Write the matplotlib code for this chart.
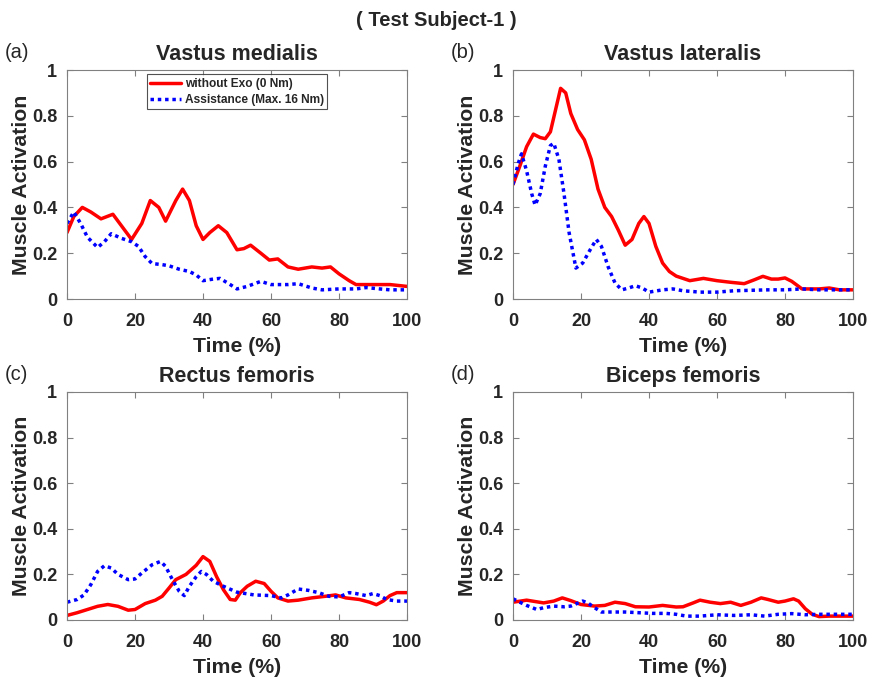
import matplotlib
matplotlib.use("Agg")
import matplotlib.pyplot as plt

plt.rcParams['font.family'] = ['Liberation Sans', 'DejaVu Sans']

# ---------------- data ----------------
titles = ["Vastus medialis", "Vastus lateralis", "Rectus femoris", "Biceps femoris"]
panel_labels = ["(a)", "(b)", "(c)", "(d)"]
legend_labels = ["without Exo (0 Nm)", "Assistance (Max. 16 Nm)"]
x_ticks = [0, 20, 40, 60, 80, 100]
y_ticks = [0, 0.2, 0.4, 0.6, 0.8, 1]
y_tick_labels = ["0", "0.2", "0.4", "0.6", "0.8", "1"]

vm_red_x = [0, 2, 4.5, 7, 10, 13.5, 16, 19, 22, 24.5, 27, 29, 32, 34, 36, 38, 40, 42, 44.5, 47,
            50, 52, 54, 57, 59.5, 62, 65, 68, 72, 75, 77.5, 80, 83, 85, 90, 95, 100]
vm_red_y = [0.29, 0.36, 0.40, 0.38, 0.35, 0.37, 0.32, 0.26, 0.33, 0.43, 0.40, 0.34, 0.43, 0.48, 0.43,
            0.32, 0.26, 0.29, 0.32, 0.29, 0.215, 0.22, 0.235, 0.20, 0.17, 0.175, 0.14, 0.13, 0.14,
            0.135, 0.14, 0.11, 0.08, 0.063, 0.063, 0.063, 0.055]
vm_blue_x = [0, 2, 4, 6, 9, 11, 13, 16, 19, 21, 23, 25, 28, 30, 33, 36, 38, 40, 43, 45, 48, 50,
             53, 57, 60, 65, 68, 72, 75, 80, 85, 88, 92, 95, 100]
vm_blue_y = [0.33, 0.38, 0.33, 0.27, 0.225, 0.25, 0.285, 0.265, 0.25, 0.23, 0.185, 0.155, 0.15, 0.145,
             0.13, 0.12, 0.105, 0.08, 0.087, 0.09, 0.063, 0.044, 0.055, 0.077, 0.063, 0.063, 0.067,
             0.048, 0.04, 0.044, 0.044, 0.05, 0.044, 0.04, 0.04]

vl_red_x = [0, 2, 4, 6, 8, 9.5, 11, 12.5, 14, 15.5, 17, 19, 21, 23, 25, 27, 29, 31, 33, 35, 37, 38.5,
            40, 42, 44, 46, 48, 52, 56, 60, 64, 68, 71, 73.5, 76, 78, 80, 82, 85, 90, 93, 96, 100]
vl_red_y = [0.50, 0.58, 0.665, 0.72, 0.705, 0.70, 0.73, 0.825, 0.92, 0.90, 0.81, 0.74, 0.695, 0.61,
            0.48, 0.40, 0.36, 0.30, 0.235, 0.26, 0.33, 0.36, 0.33, 0.23, 0.157, 0.12, 0.10, 0.08,
            0.09, 0.08, 0.073, 0.067, 0.084, 0.099, 0.087, 0.087, 0.092, 0.077, 0.044, 0.044,
            0.048, 0.04, 0.04]
vl_blue_x = [0, 1.5, 2.5, 4, 5.5, 6.5, 8, 9.5, 11, 12, 13.5, 15, 16.5, 18.5, 20.5, 22.5, 24.5, 26,
             28, 30, 32, 34, 36, 38, 40, 44, 47, 50, 55, 60, 65, 70, 75, 80, 85, 90, 95, 100]
vl_blue_y = [0.50, 0.59, 0.634, 0.56, 0.46, 0.41, 0.46, 0.58, 0.67, 0.68, 0.61, 0.46, 0.29, 0.135,
             0.157, 0.21, 0.26, 0.23, 0.14, 0.07, 0.04, 0.048, 0.058, 0.048, 0.03, 0.04, 0.044,
             0.036, 0.03, 0.03, 0.036, 0.038, 0.04, 0.04, 0.044, 0.04, 0.04, 0.04]

rf_red_x = [0, 3, 6, 9, 12, 15, 18, 20, 23, 26, 28, 30, 32, 35, 38, 40, 42, 44, 46, 48, 49.5, 51, 53,
            55.5, 58, 60, 62, 65, 68, 72, 76, 79, 82, 86, 89, 91, 93, 95, 97, 100]
rf_red_y = [0.02, 0.032, 0.046, 0.06, 0.068, 0.06, 0.043, 0.046, 0.072, 0.087, 0.104, 0.14, 0.177,
            0.20, 0.24, 0.278, 0.257, 0.19, 0.133, 0.09, 0.087, 0.12, 0.148, 0.17, 0.16, 0.126,
            0.097, 0.083, 0.087, 0.097, 0.104, 0.11, 0.097, 0.09, 0.078, 0.067, 0.083, 0.107,
            0.12, 0.12]
rf_blue_x = [0, 3, 5, 7, 9, 11, 13, 15, 18, 20, 22, 25, 27.5, 29, 31, 33, 34.5, 36, 38, 39.5, 41,
             43, 46, 50, 55, 60, 63, 65, 68, 71, 74, 77, 80, 83, 85, 88, 90, 92, 94, 97, 100]
rf_blue_y = [0.078, 0.09, 0.11, 0.155, 0.213, 0.238, 0.228, 0.20, 0.177, 0.18, 0.206, 0.242, 0.257,
             0.235, 0.177, 0.126, 0.107, 0.148, 0.19, 0.213, 0.20, 0.17, 0.148, 0.122, 0.11, 0.107,
             0.097, 0.11, 0.136, 0.13, 0.12, 0.104, 0.101, 0.12, 0.116, 0.107, 0.116, 0.107, 0.09,
             0.083, 0.083]

bf_red_x = [0, 4, 9, 12, 14.5, 17, 20, 24, 27, 30, 33, 36, 40, 44, 48, 50, 53, 55, 58, 61, 64, 67,
            70, 73, 75, 78, 80, 82.5, 84, 86, 88, 90, 93, 96, 100]
bf_red_y = [0.078, 0.087, 0.075, 0.083, 0.097, 0.085, 0.068, 0.061, 0.064, 0.078, 0.072, 0.058,
            0.057, 0.064, 0.057, 0.058, 0.075, 0.087, 0.078, 0.072, 0.078, 0.064, 0.078, 0.097,
            0.09, 0.078, 0.083, 0.093, 0.083, 0.049, 0.025, 0.015, 0.017, 0.017, 0.017]
bf_blue_x = [0, 2, 4, 7, 9, 12, 15, 17, 20.5, 22, 24, 26, 29, 33, 37, 41, 45, 48, 51, 55, 60, 65,
             70, 74, 78, 82, 86, 90, 95, 100]
bf_blue_y = [0.093, 0.078, 0.064, 0.046, 0.054, 0.061, 0.058, 0.061, 0.083, 0.075, 0.054, 0.035,
             0.035, 0.035, 0.032, 0.029, 0.029, 0.025, 0.017, 0.017, 0.023, 0.020, 0.023, 0.017,
             0.025, 0.028, 0.023, 0.025, 0.025, 0.025]

series = [
    (vm_red_x, vm_red_y, vm_blue_x, vm_blue_y),
    (vl_red_x, vl_red_y, vl_blue_x, vl_blue_y),
    (rf_red_x, rf_red_y, rf_blue_x, rf_blue_y),
    (bf_red_x, bf_red_y, bf_blue_x, bf_blue_y),
]

# ---------------- figure ----------------
W, H = 873, 686
fig = plt.figure(figsize=(W / 100, H / 100), dpi=100)

txt = "#262626"
spine = "#808080"

boxes = [(67, 70, 407, 299), (513, 70, 853, 299), (67, 392, 407, 620), (513, 392, 853, 620)]
for i, (x0, y0, x1, y1) in enumerate(boxes):
    ax = fig.add_axes([x0 / W, 1 - y1 / H, (x1 - x0) / W, (y1 - y0) / H])
    rx, ry, bx, by = series[i]
    ax.plot(rx, ry, color="#ff0000", lw=2.5, solid_capstyle="round", solid_joinstyle="round",
            label=legend_labels[0])
    ax.plot(bx, by, color="#0000ff", lw=2.5, linestyle=(0, (1, 1.1)), label=legend_labels[1])
    ax.set_xlim(0, 100)
    ax.set_ylim(0, 1)
    ax.set_xticks(x_ticks)
    ax.set_yticks(y_ticks)
    ax.set_yticklabels(y_tick_labels)
    ax.tick_params(direction="in", top=True, right=True, length=4, width=0.8, color=spine,
                   labelsize=13, labelcolor=txt)
    ax.tick_params(axis="x", pad=10)
    ax.tick_params(axis="y", pad=7)
    for lab in ax.get_xticklabels() + ax.get_yticklabels():
        lab.set_fontweight("bold")
    for s in ax.spines.values():
        s.set_color(spine)
        s.set_linewidth(0.8)
    ax.set_title(titles[i], fontsize=15.5, fontweight="bold", color=txt, pad=7)
    ax.set_xlabel("Time (%)", fontsize=15.3, fontweight="bold", color=txt, labelpad=5)
    ax.set_ylabel("Muscle Activation", fontsize=15.3, fontweight="bold", color=txt, labelpad=1)
    fig.text((x0 - 62) / W, 1 - (y0 - 18) / H, panel_labels[i], fontsize=14.5, color=txt,
             ha="left", va="center")
    if i == 0:
        leg = ax.legend(loc="upper center", bbox_to_anchor=(0.5, 0.982),
                        prop={"weight": "bold", "size": 8.6}, frameon=True, fancybox=False,
                        edgecolor=txt, handlelength=2.6, handletextpad=0.3,
                        borderpad=0.3, labelspacing=0.35, borderaxespad=0)
        leg.get_frame().set_linewidth(0.8)
        for t in leg.get_texts():
            t.set_color(txt)

fig.text(0.5, 1 - 21 / H, "( Test Subject-1 )", fontsize=14.5, fontweight="bold", color=txt,
         ha="center", va="center")

fig.savefig("out.png", dpi=100)
